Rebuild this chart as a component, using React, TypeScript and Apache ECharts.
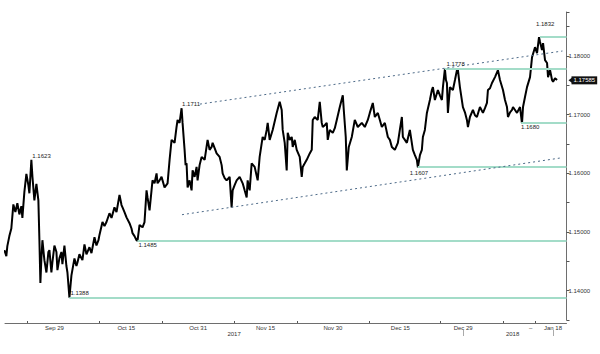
import { useEffect, useRef } from 'react';
import * as echarts from 'echarts';

// EUR/USD, x = days since 2017-09-29, y = price
const septOct: [number, number][] = [
  [-11.15, 1.1469], [-10.7, 1.1459], [-10.48, 1.1476], [-10.03, 1.1493], [-9.59, 1.1506], [-9.14, 1.1547],
  [-8.69, 1.1534], [-8.25, 1.1549], [-7.8, 1.153], [-7.36, 1.1544], [-7.13, 1.1524], [-6.69, 1.1568],
  [-6.24, 1.1599], [-5.8, 1.158], [-5.57, 1.1566], [-5.13, 1.1623], [-4.9, 1.1595], [-4.46, 1.1554],
  [-4.01, 1.1582], [-3.57, 1.1554], [-3.34, 1.1486], [-3.12, 1.1413], [-2.9, 1.1455], [-2.67, 1.1486],
  [-2.23, 1.1452], [-1.78, 1.1431], [-1.34, 1.1466], [-1.11, 1.1469], [-0.67, 1.1431], [-0.45, 1.1448],
  [0, 1.1477], [0.45, 1.1466], [0.67, 1.1435], [1.11, 1.1455], [1.56, 1.1466], [1.78, 1.1445],
  [2.23, 1.1477], [2.67, 1.1442], [2.9, 1.1431], [3.34, 1.1388], [3.79, 1.1426], [4.46, 1.1455],
  [4.9, 1.1442], [5.13, 1.1448], [5.57, 1.1462], [6.24, 1.1452], [6.69, 1.1479], [7.13, 1.1462],
  [7.8, 1.1474], [8.25, 1.1464], [8.92, 1.1491], [9.36, 1.1477], [9.81, 1.1486],
];
const october: [number, number][] = [
  [10.03, 1.1495], [10.7, 1.1517], [11.15, 1.151], [11.59, 1.1517], [12.26, 1.1532], [12.71, 1.1524],
  [13.37, 1.1542], [13.82, 1.1534], [14.49, 1.1563], [14.94, 1.1546], [15.16, 1.1542], [15.6, 1.1534],
  [16.05, 1.1525], [16.72, 1.1515], [17.16, 1.1506], [17.39, 1.1498], [17.83, 1.1493], [18.28, 1.1486],
  [18.5, 1.1485], [18.95, 1.1512], [19.62, 1.1508], [20.06, 1.1517], [20.51, 1.1571], [20.73, 1.1559],
  [21.18, 1.1537], [21.62, 1.1571], [21.84, 1.1588], [22.29, 1.1583], [22.74, 1.16], [22.96, 1.1583],
  [23.41, 1.1588], [23.85, 1.1594], [24.52, 1.1576], [25.19, 1.1583], [25.64, 1.1623], [26.08, 1.1657],
  [26.75, 1.1652], [27.19, 1.1679], [27.42, 1.1691], [27.86, 1.1686], [28.31, 1.1711],
];
const november: [number, number][] = [
  [28.53, 1.1686], [28.98, 1.164], [29.2, 1.1614], [29.42, 1.1617], [29.65, 1.1576], [30.09, 1.1588],
  [30.54, 1.1571], [30.76, 1.1605], [31.21, 1.1594], [31.65, 1.1611], [31.87, 1.1588], [32.32, 1.1614],
  [32.77, 1.1628], [33.44, 1.1623], [34.1, 1.1657], [34.55, 1.164], [35.0, 1.1645], [35.22, 1.1652],
  [35.67, 1.1643], [36.11, 1.1634], [36.78, 1.1628], [37.23, 1.1614], [37.45, 1.16], [37.9, 1.1592],
  [38.34, 1.1588], [39.01, 1.1594], [39.45, 1.1542], [39.68, 1.1571], [40.12, 1.158], [40.57, 1.1588],
  [41.24, 1.1594], [41.91, 1.1583], [42.35, 1.1571], [42.8, 1.1559], [43.02, 1.1588], [43.47, 1.1571],
  [43.91, 1.1617], [44.58, 1.1611], [45.25, 1.1588], [45.69, 1.1628], [46.36, 1.1662], [46.81, 1.1657],
  [47.26, 1.1674], [47.48, 1.1686], [47.92, 1.1657], [48.59, 1.1674], [49.48, 1.1703], [50.15, 1.1722],
  [50.6, 1.1708], [50.82, 1.1674], [51.27, 1.1652], [51.71, 1.1605], [51.94, 1.1669], [52.38, 1.1657],
  [52.83, 1.1662], [53.05, 1.1645], [53.5, 1.1657], [53.94, 1.164], [54.61, 1.1628], [55.06, 1.1594],
  [55.28, 1.1611], [55.73, 1.1617], [56.17, 1.1623], [56.84, 1.1634], [57.29, 1.164], [57.51, 1.1691],
  [57.95, 1.1696], [58.62, 1.1691], [59.07, 1.1722], [59.51, 1.1686], [59.74, 1.1679], [60.19, 1.1682],
  [60.63, 1.1686], [60.85, 1.1657], [61.3, 1.1674],
];
const december: [number, number][] = [
  [61.97, 1.1669], [62.42, 1.1677], [62.86, 1.1691], [63.53, 1.1713], [64.2, 1.1733], [64.42, 1.1708],
  [64.86, 1.1662], [65.09, 1.1605], [65.53, 1.1645], [66.2, 1.1662], [66.87, 1.1691], [67.54, 1.1679],
  [68.43, 1.1686], [69.1, 1.1679], [69.77, 1.1691], [70.21, 1.1703], [70.88, 1.172], [71.33, 1.1696],
  [72.0, 1.1703], [72.45, 1.1691], [72.89, 1.1679], [73.56, 1.1686], [74.23, 1.1662], [74.68, 1.1657],
  [75.12, 1.1645], [75.79, 1.164], [76.46, 1.1652], [76.9, 1.1674], [77.35, 1.1696], [77.57, 1.1662],
  [78.02, 1.1657], [78.46, 1.1652], [79.13, 1.1674], [79.8, 1.164], [80.25, 1.1631], [80.69, 1.1623],
  [80.91, 1.161], [81.37, 1.1631], [81.8, 1.164], [82.03, 1.1662], [82.47, 1.1674], [82.92, 1.1703],
  [83.59, 1.1725], [84.03, 1.1742], [84.26, 1.1747], [84.7, 1.1725], [85.37, 1.1742], [85.82, 1.1733],
  [86.26, 1.1725], [86.49, 1.1747], [86.93, 1.1778], [87.16, 1.1759], [87.38, 1.1754], [87.6, 1.1703],
  [88.05, 1.1747], [88.71, 1.1742], [89.17, 1.1759], [89.61, 1.1776], [89.83, 1.1776], [90.27, 1.1747],
  [90.94, 1.1713], [91.39, 1.1704], [91.83, 1.1691],
];
const january: [number, number][] = [
  [92.06, 1.1679], [92.5, 1.1696], [93.17, 1.1708], [93.62, 1.1699], [94.06, 1.1696], [94.73, 1.1713],
  [95.4, 1.1703], [95.85, 1.1711], [96.29, 1.172], [96.51, 1.1742], [96.97, 1.1745], [97.41, 1.1754],
  [98.08, 1.1764], [98.74, 1.1776], [99.19, 1.1759], [99.86, 1.1742], [100.31, 1.1725], [100.75, 1.1713],
  [100.97, 1.1696], [101.43, 1.1704], [101.87, 1.1708], [102.09, 1.1713], [102.54, 1.1708], [102.98, 1.1703],
  [103.65, 1.1713], [104.09, 1.1685], [104.32, 1.1713], [104.76, 1.173], [105.21, 1.1747], [105.88, 1.1764],
  [106.33, 1.1798], [106.99, 1.1815], [107.44, 1.1805], [107.88, 1.1832], [108.11, 1.1824], [108.55, 1.181],
  [108.78, 1.1822], [109.22, 1.1793], [109.67, 1.1788], [109.89, 1.1764], [110.34, 1.1776], [110.78, 1.1759],
  [111.01, 1.1756], [111.45, 1.1762], [111.9, 1.1759],
];

// horizontal support / resistance levels
const levelPrices = [1.1832, 1.1778, 1.1686, 1.1612, 1.1485, 1.1388];
const levelStartDays = [108.1, 86.9, 103.9, 80.9, 18.5, 3.34];

// annotated extremes
const noteTexts = ['1.1623', '1.1711', '1.1485', '1.1388', '1.1607', '1.1778', '1.1680', '1.1832'];
const noteDays = [-5.13, 28.31, 18.5, 3.34, 80.91, 86.93, 104.09, 107.88];
const notePrices = [1.1623, 1.1711, 1.1485, 1.1388, 1.161, 1.1778, 1.1685, 1.1832];
const noteOffsets = [[1, -4], [0.5, -4], [1, 4], [1, -5], [-8, 6], [1.5, -4.5], [-1, 4], [-3, -13]];

// channel lines
const upperChannel: [number, number][] = [[32.4, 1.1718], [113.1, 1.18085]];
const lowerChannel: [number, number][] = [[28.4, 1.15295], [113.1, 1.16267]];

const lastPrice = 1.17585;

const dateLabels = ['Sep 29', 'Oct 15', 'Oct 31', 'Nov 15', 'Nov 30', 'Dec 15', 'Dec 29', 'Jan 13', 'Jan 18'];
const tickDates = ['Sep 23', 'Oct 9', 'Oct 23', 'Nov 8', 'Nov 22', 'Dec 8', 'Dec 24', 'Jan 7', 'Jan 14'];
const yearLabelDates = ['Nov 8', 'Jan 9'];
const yearLabelTexts = ['2017', '2018'];
const yearMarkDates = ['Dec 29', 'Jan 18'];

const MONTHS = ['Jan', 'Feb', 'Mar', 'Apr', 'May', 'Jun', 'Jul', 'Aug', 'Sep', 'Oct', 'Nov', 'Dec'];
const X_MIN = -11;
const X_MAX = 114;

const FONT = 'Liberation Sans';

export default function App() {
  const ref = useRef<HTMLDivElement>(null);

  useEffect(() => {
    if (!ref.current) return;
    const chart = echarts.init(ref.current, null, { renderer: 'svg' });

    const cats: string[] = [];
    for (let i = 0; i <= X_MAX - X_MIN; i++) {
      const d = new Date(2017, 8, 18 + i);
      cats.push(`${MONTHS[d.getMonth()]} ${d.getDate()}`);
    }
    const labelSet = new Set(dateLabels);
    const tickSet = new Set(tickDates);
    const yearMarkSet = new Set(yearMarkDates);

    const data = [...septOct, ...october, ...november, ...december, ...january];

    const levelLines = levelPrices.map((p, i) => [
      { coord: [levelStartDays[i], p] },
      { coord: [X_MAX, p] },
    ]);
    const channelStyle = { color: '#4d6a88', width: 1, type: [2, 3] as any, opacity: 1 };
    const channelLines = [upperChannel, lowerChannel].map((seg) => [
      { coord: seg[0], lineStyle: channelStyle },
      { coord: seg[1], lineStyle: channelStyle },
    ]);

    const notes: any[] = noteTexts.map((t, i) => ({
      coord: [noteDays[i], notePrices[i]],
      value: t,
      label: {
        show: true,
        formatter: t,
        position: [noteOffsets[i][0] + 0.5, noteOffsets[i][1] + 0.5],
        align: 'left',
        verticalAlign: 'middle',
        fontSize: 6,
        fontFamily: FONT,
        color: '#222',
      },
    }));

    // last-price tag on the right axis
    notes.push({
      coord: [X_MAX, lastPrice],
      value: lastPrice,
      symbol: 'triangle',
      symbolSize: [6, 4],
      symbolRotate: 90,
      symbolOffset: [4, 0],
      itemStyle: { color: '#111' },
      label: {
        show: true,
        formatter: lastPrice.toFixed(5),
        position: 'right',
        distance: -1,
        align: 'left',
        verticalAlign: 'middle',
        backgroundColor: '#111',
        color: '#fff',
        padding: [1, 2, 1, 2],
        fontSize: 6,
        fontFamily: FONT,
      },
    });

    const option: any = {
      animation: false,
      backgroundColor: '#ffffff',
      grid: { left: 5, right: 33.5, top: 12, bottom: 34, containLabel: false },
      xAxis: [
        { type: 'value', min: X_MIN, max: X_MAX, show: false },
        {
          type: 'category',
          data: cats,
          boundaryGap: false,
          position: 'bottom',
          offset: 3,
          axisLine: { show: true, onZero: false, lineStyle: { color: '#6e6e6e', width: 1 } },
          axisTick: {
            show: true,
            inside: true,
            length: 2,
            interval: (_i: number, v: string) => tickSet.has(v),
            lineStyle: { color: '#555' },
          },
          axisLabel: {
            interval: (_i: number, v: string) => labelSet.has(v),
            formatter: (v: string) => (v === 'Jan 13' ? '–' : v),
            fontSize: 6,
            fontFamily: FONT,
            color: '#333',
            margin: 2,
          },
          splitLine: { show: false },
        },
        {
          type: 'category',
          data: cats,
          boundaryGap: false,
          position: 'bottom',
          offset: 10,
          axisLine: { show: false, onZero: false },
          axisTick: {
            show: true,
            length: 6,
            interval: (_i: number, v: string) => yearMarkSet.has(v),
            lineStyle: { color: '#aaa' },
          },
          axisLabel: {
            interval: (_i: number, v: string) => yearLabelDates.includes(v),
            formatter: (v: string) => yearLabelTexts[yearLabelDates.indexOf(v)] ?? '',
            fontSize: 6,
            fontFamily: FONT,
            color: '#333',
            margin: 0.5,
          },
          splitLine: { show: false },
        },
      ],
      yAxis: {
        type: 'value',
        position: 'right',
        min: 1.135,
        max: 1.1875,
        interval: 0.005,
        axisLine: { show: true, onZero: false, lineStyle: { color: '#6e6e6e', width: 1 } },
        axisTick: { show: true, length: 3, lineStyle: { color: '#555' } },
        axisLabel: {
          fontSize: 6,
          fontFamily: FONT,
          color: '#333',
          margin: 2,
          formatter: (v: number) =>
            Math.abs(v * 100 - Math.round(v * 100)) < 1e-6 ? v.toFixed(5) : '',
        },
        splitLine: { show: false },
      },
      series: [
        {
          type: 'line',
          xAxisIndex: 0,
          yAxisIndex: 0,
          data,
          showSymbol: false,
          silent: true,
          lineStyle: { color: '#000', width: 2 },
          markLine: {
            silent: true,
            symbol: ['none', 'none'],
            label: { show: false },
            lineStyle: { color: '#a3dcc8', width: 2, type: 'solid', opacity: 1 },
            data: [...levelLines, ...channelLines],
          },
          markPoint: {
            silent: true,
            symbol: 'circle',
            symbolSize: 1,
            itemStyle: { color: 'rgba(0,0,0,0)' },
            data: notes,
          },
        },
      ],
    };

    chart.setOption(option);
    return () => chart.dispose();
  }, []);

  return (
    <div
      ref={ref}
      style={{ position: 'absolute', left: 0, top: 0, width: 600, height: 354, background: '#fff' }}
    />
  );
}
